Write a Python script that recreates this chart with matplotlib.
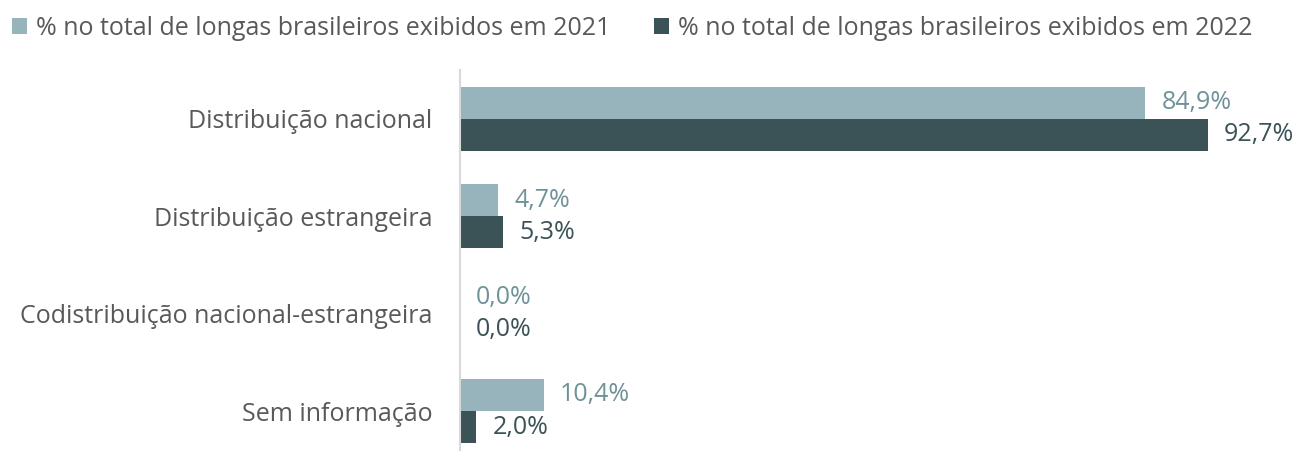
import matplotlib.pyplot as plt
import numpy as np

plt.rcParams['font.family'] = ['Open Sans', 'DejaVu Sans']

categorias = ['Distribuição nacional', 'Distribuição estrangeira',
              'Codistribuição nacional-estrangeira', 'Sem informação']
v2021 = [84.9, 4.7, 0.0, 10.4]
v2022 = [92.7, 5.3, 0.0, 2.0]
series = ['% no total de longas brasileiros exibidos em 2021',
          '% no total de longas brasileiros exibidos em 2022']

cor_clara = '#97b3bc'
cor_escura = '#3b5257'
cor_rot_clara = '#6f9299'
cor_texto = '#595959'

fig = plt.figure(figsize=(13.01, 4.51), dpi=100)
ax = fig.add_axes([460 / 1301, 0, 807 / 1301, 381 / 451])

y = np.arange(len(categorias))
h = 0.33
ax.barh(y - h / 2, v2021, height=h, color=cor_clara, label=series[0])
ax.barh(y + h / 2, v2022, height=h, color=cor_escura, label=series[1])

for i in range(len(categorias)):
    ax.text(v2021[i] + 2.0, y[i] - h / 2, f'{v2021[i]:.1f}%'.replace('.', ','),
            va='center', ha='left', fontsize=18, color=cor_rot_clara)
    ax.text(v2022[i] + 2.0, y[i] + h / 2, f'{v2022[i]:.1f}%'.replace('.', ','),
            va='center', ha='left', fontsize=18, color=cor_escura)

ax.set_xlim(0, 100)
ax.set_ylim(3.41, -0.5)
ax.set_yticks(y)
ax.set_yticklabels(categorias, fontsize=18, color=cor_texto)
ax.tick_params(axis='y', length=0, pad=20)
ax.set_xticks([])
for s in ['top', 'right', 'bottom']:
    ax.spines[s].set_visible(False)
ax.spines['left'].set_color('#d9d9d9')
ax.spines['left'].set_linewidth(1.5)

fig.legend(loc='upper left', bbox_to_anchor=(-0.008, 1.015), ncol=2, frameon=False,
           fontsize=18, labelcolor=cor_texto, handlelength=0.6, handleheight=0.62,
           handletextpad=0.36, columnspacing=1.75)

fig.savefig('out.png', dpi=100)
